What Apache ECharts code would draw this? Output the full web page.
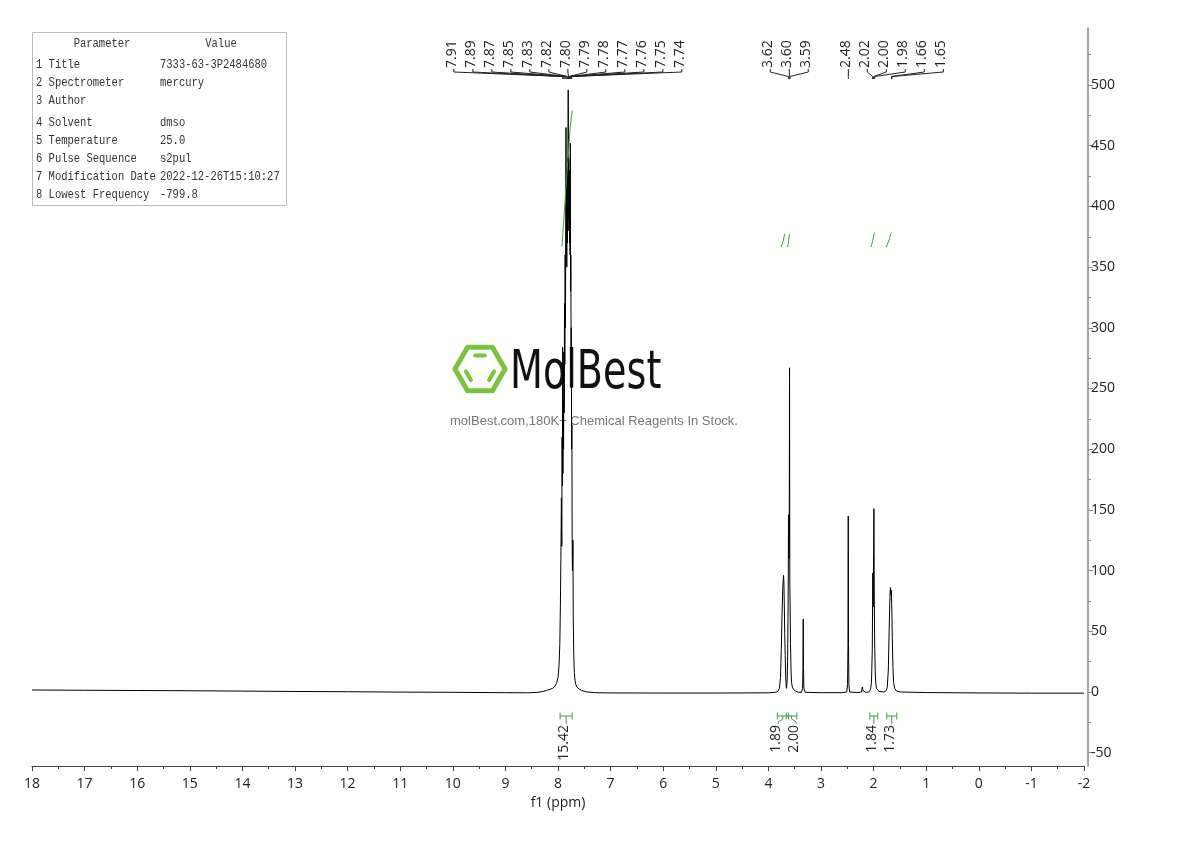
<!DOCTYPE html>
<html>
<head>
<meta charset="utf-8">
<title>1H NMR</title>
<script src="https://cdn.jsdelivr.net/npm/echarts@6/dist/echarts.min.js"></script>
<style>
html,body{margin:0;padding:0;background:#fff;}
#nmrChart{width:1190px;height:841px;}
</style>
</head>
<body>
<div id="nmrChart"></div>
<script>
// spectrum trace, [ppm, intensity] (ppm descending)
var spectrum = [
    [18, 1.6], [17, 1.4], [16, 1.2], [15, 1.0], [14, 0.7], [13, 0.4], [12, 0.2], [11, -0.1],
    [10, -0.3], [9, -0.6], [8.6, -0.7], [8.4, -0.4], [8.3, 0.3], [8.22, 1.2], [8.15, 2.2],
    [8.1, 3], [8.06, 4.5], [8.03, 7], [8.0, 12], [7.98, 22], [7.965, 40], [7.955, 70],
    [7.945, 110], [7.935, 160], [7.928, 120], [7.922, 210], [7.916, 170], [7.912, 284],
    [7.906, 180], [7.9, 240], [7.894, 200], [7.888, 280], [7.882, 230], [7.876, 320],
    [7.87, 270], [7.864, 360], [7.858, 300], [7.852, 400], [7.848, 465], [7.843, 360],
    [7.838, 420], [7.833, 350], [7.828, 430], [7.823, 370], [7.818, 440], [7.813, 380],
    [7.806, 496], [7.8, 390], [7.795, 440], [7.79, 380], [7.785, 430], [7.78, 370],
    [7.775, 420], [7.77, 360], [7.766, 452], [7.761, 330], [7.756, 360], [7.751, 280],
    [7.746, 300], [7.741, 200], [7.736, 220], [7.731, 130], [7.726, 100], [7.72, 110],
    [7.716, 125], [7.71, 60], [7.7, 30], [7.69, 16], [7.675, 9], [7.66, 6], [7.64, 4],
    [7.6, 2.5], [7.55, 1.2], [7.45, 0], [7.3, -0.6], [7, -0.8], [6, -0.9], [5, -0.9],
    [4.5, -0.8], [4.0, -0.7], [3.86, -0.3], [3.82, 0.5], [3.79, 3], [3.77, 12], [3.755, 35],
    [3.74, 65], [3.725, 88], [3.712, 96], [3.705, 90], [3.697, 70], [3.69, 48], [3.68, 30],
    [3.672, 14], [3.663, 5], [3.655, 3], [3.645, 8], [3.635, 25], [3.625, 70], [3.617, 146],
    [3.61, 110], [3.604, 123], [3.598, 267], [3.593, 90], [3.587, 74], [3.58, 40],
    [3.57, 18], [3.56, 8], [3.545, 4], [3.52, 2], [3.48, 0.5], [3.42, -0.3], [3.37, -0.3],
    [3.35, 3], [3.343, 20], [3.338, 60], [3.333, 20], [3.325, 3], [3.3, -0.3], [3.0, -0.6],
    [2.6, -0.6], [2.51, 0], [2.495, 6], [2.487, 40], [2.482, 145], [2.477, 40], [2.47, 6],
    [2.455, 0], [2.3, -0.5], [2.23, 0], [2.215, 4], [2.208, 5], [2.2, 1], [2.15, -0.3],
    [2.09, 0], [2.06, 2], [2.04, 8], [2.025, 35], [2.015, 98], [2.008, 70], [2.0, 113],
    [1.994, 151], [1.989, 100], [1.984, 60], [1.978, 36], [1.97, 18], [1.96, 8],
    [1.945, 3], [1.9, 0.5], [1.8, 0], [1.76, 1], [1.74, 4], [1.72, 18], [1.705, 50],
    [1.69, 78], [1.68, 86], [1.672, 80], [1.664, 84], [1.655, 72], [1.645, 45],
    [1.632, 20], [1.62, 8], [1.6, 3], [1.57, 1], [1.5, 0], [1.0, -0.5], [0, -0.8],
    [-1, -1], [-2, -1]
];

// picked peaks (labels on top)
var peakShifts = [7.91, 7.89, 7.87, 7.85, 7.83, 7.82, 7.80, 7.79, 7.78, 7.77, 7.76, 7.75, 7.74,
    3.62, 3.60, 3.59, 2.48, 2.02, 2.00, 1.98, 1.66, 1.65];

// integration regions [from, to] and their values
var integralRanges = [[7.96, 7.73], [3.83, 3.62], [3.66, 3.46], [2.07, 1.92], [1.75, 1.56]];
var integralValues = [15.42, 1.89, 2.00, 1.84, 1.73];

// integral curves (green), [ppm, intensity]
var integralCurves = [
    [[7.924, 367], [7.88, 395], [7.837, 424], [7.80, 445], [7.772, 463], [7.745, 474], [7.728, 479]],
    [[3.76, 366.5], [3.74, 367.5], [3.72, 371], [3.70, 375.5], [3.684, 377.5]],
    [[3.64, 366.5], [3.625, 369], [3.61, 374], [3.60, 377.5]],
    [[2.05, 366.5], [2.035, 367.5], [2.015, 372], [1.995, 377], [1.975, 378.5]],
    [[1.76, 366.5], [1.73, 368], [1.70, 373], [1.675, 377.5], [1.65, 378.5]]
];

var yMajorTicks = [-50, 0, 50, 100, 150, 200, 250, 300, 350, 400, 450, 500];
var yMinorTicks = [-25, 25, 75, 125, 175, 225, 275, 325, 375, 425, 475, 525];

var paramNames = ['1 Title', '2 Spectrometer', '3 Author', '4 Solvent', '5 Temperature',
    '6 Pulse Sequence', '7 Modification Date', '8 Lowest Frequency'];
var paramValues = ['7333-63-3P2484680', 'mercury', '', 'dmso', '25.0', 's2pul',
    '2022-12-26T15:10:27', '-799.8'];

var GREEN = '#3f9f3f';
var TXT = '#222';
var FONT = 'Open Sans';

// spread labels that would overlap: centre each cluster on its mean, push right if needed
function spreadLabels(centers, gap) {
    var out = [], groups = [], cur = [0];
    for (var i = 1; i < centers.length; i++) {
        if (Math.abs(centers[i] - centers[i - 1]) < gap) cur.push(i);
        else { groups.push(cur); cur = [i]; }
    }
    groups.push(cur);
    var lastX = -Infinity;
    groups.forEach(function (g) {
        var mean = g.reduce(function (s, k) { return s + centers[k]; }, 0) / g.length;
        var start = mean - (g.length - 1) / 2 * gap;
        if (start < lastX + gap) start = lastX + gap;
        g.forEach(function (k, j) { out[k] = start + j * gap; });
        lastX = start + (g.length - 1) * gap;
    });
    return out;
}

function vText(str, x, y, align) {
    return {
        type: 'text', x: x, y: y, rotation: Math.PI / 2,
        style: {
            text: str, fill: TXT, fontSize: 14, fontFamily: FONT,
            align: align, textAlign: align, verticalAlign: 'middle', textVerticalAlign: 'middle'
        }
    };
}

var chart = echarts.init(document.getElementById('nmrChart'));

// table + watermark
var graphics = [];
graphics.push({
    type: 'rect', shape: { x: 32.5, y: 32.5, width: 254, height: 173 },
    style: { fill: '#fff', stroke: '#bbb', lineWidth: 1 }, z: 1
});
function cellText(str, x, y, align) {
    return {
        type: 'text', x: x, y: y, z: 2, scaleX: 0.875,
        style: {
            text: str, fill: '#333', fontSize: 12, fontFamily: 'Liberation Mono',
            align: align, textAlign: align, verticalAlign: 'middle', textVerticalAlign: 'middle'
        }
    };
}
graphics.push(cellText('Parameter', 102, 44, 'center'));
graphics.push(cellText('Value', 221, 44, 'center'));
paramNames.forEach(function (n, i) {
    var y = 65 + i * 18 + (i >= 3 ? 4 : 0);
    graphics.push(cellText(n, 36, y, 'left'));
    graphics.push(cellText(paramValues[i], 160, y, 'left'));
});

var hx = 480, hy = 369, hr = 25;
var hexPts = [];
for (var k = 0; k < 6; k++) {
    var a = Math.PI / 3 * k;
    hexPts.push([hx + hr * Math.cos(a), hy + hr * Math.sin(a)]);
}
graphics.push({
    type: 'polygon', shape: { points: hexPts },
    style: { fill: 'none', stroke: '#7cc242', lineWidth: 5, lineJoin: 'round' }, z: 0
});
// inner bonds: top, lower-left, lower-right edges of a smaller hexagon
var ir = hr * 0.62;
[[4, 5], [2, 3], [0, 1]].forEach(function (e) {
    var a1 = Math.PI / 3 * e[0], a2 = Math.PI / 3 * e[1];
    var p1 = [hx + ir * Math.cos(a1), hy + ir * Math.sin(a1)];
    var p2 = [hx + ir * Math.cos(a2), hy + ir * Math.sin(a2)];
    var s = 0.18;
    graphics.push({
        type: 'line',
        shape: {
            x1: p1[0] + (p2[0] - p1[0]) * s, y1: p1[1] + (p2[1] - p1[1]) * s,
            x2: p2[0] - (p2[0] - p1[0]) * s, y2: p2[1] - (p2[1] - p1[1]) * s
        },
        style: { stroke: '#7cc242', lineWidth: 4, lineCap: 'round' }, z: 0
    });
});
graphics.push({
    type: 'text', x: 510, y: 374, scaleX: 0.72, z: 0,
    style: {
        text: 'MolBest', fill: '#111', fontSize: 53, fontFamily: 'DejaVu Sans',
        align: 'left', textAlign: 'left', verticalAlign: 'middle', textVerticalAlign: 'middle'
    }
});
graphics.push({
    type: 'text', x: 594, y: 421, z: 0,
    style: {
        text: 'molBest.com,180K+ Chemical Reagents In Stock.', fill: '#777', fontSize: 13,
        fontFamily: 'Liberation Sans', align: 'center', textAlign: 'center',
        verticalAlign: 'middle', textVerticalAlign: 'middle'
    }
});

var series = [{
    type: 'line',
    data: spectrum,
    showSymbol: false,
    symbol: 'none',
    silent: true,
    z: 3,
    lineStyle: { color: '#000', width: 1 }
}];

integralCurves.forEach(function (c) {
    series.push({
        type: 'line', data: c, showSymbol: false, symbol: 'none', silent: true, z: 4,
        lineStyle: { color: GREEN, width: 1 }
    });
});

// peak labels with leader lines
series.push({
    type: 'custom',
    clip: false,
    silent: true,
    z: 5,
    data: peakShifts.map(function (p) { return [p, 0]; }),
    renderItem: function (params, api) {
        var top = params.coordSys.y;
        var xs = peakShifts.map(function (p) { return api.coord([p, 0])[0]; });
        var lx = spreadLabels(xs, 19);
        var i = params.dataIndex;
        var yText = top + 40;
        return {
            type: 'group',
            children: [
                vText(peakShifts[i].toFixed(2), lx[i] - 2, yText, 'left'),
                {
                    type: 'polyline',
                    shape: { points: [[lx[i], yText + 1], [lx[i], top + 44], [xs[i], top + 48.5], [xs[i], top + 51]] },
                    style: { stroke: TXT, lineWidth: 1, fill: null }
                }
            ]
        };
    }
});

// integral brackets and values
series.push({
    type: 'custom',
    clip: false,
    silent: true,
    z: 5,
    data: integralRanges.map(function (r) { return [(r[0] + r[1]) / 2, 0]; }),
    renderItem: function (params, api) {
        var i = params.dataIndex;
        var y0 = api.coord([0, 0])[1];
        var centers = integralRanges.map(function (r) { return api.coord([(r[0] + r[1]) / 2, 0])[0]; });
        var lx = spreadLabels(centers, 18);
        var x1 = api.coord([integralRanges[i][0], 0])[0];
        var x2 = api.coord([integralRanges[i][1], 0])[0];
        var yb = y0 + 24;
        var st = { stroke: GREEN, lineWidth: 1, fill: null };
        return {
            type: 'group',
            children: [
                { type: 'line', shape: { x1: x1, y1: yb, x2: x2, y2: yb }, style: st },
                { type: 'line', shape: { x1: x1, y1: yb - 3.5, x2: x1, y2: yb + 3.5 }, style: st },
                { type: 'line', shape: { x1: x2, y1: yb - 3.5, x2: x2, y2: yb + 3.5 }, style: st },
                {
                    type: 'polyline',
                    shape: { points: [[centers[i], yb], [centers[i], yb + 3], [lx[i], yb + 6], [lx[i], yb + 8]] },
                    style: st
                },
                vText(integralValues[i].toFixed(2), lx[i] - 2, yb + 9, 'right')
            ]
        };
    }
});

var option = {
    animation: false,
    backgroundColor: '#fff',
    grid: { left: 32, right: 106, top: 28, bottom: 75, outerBoundsMode: 'none' },
    xAxis: {
        type: 'value',
        inverse: true,
        min: -2,
        max: 18,
        interval: 1,
        name: 'f1 (ppm)',
        nameLocation: 'middle',
        nameGap: 27,
        nameTextStyle: { fontSize: 14, color: TXT, fontFamily: FONT },
        axisLine: { onZero: false, lineStyle: { color: '#444', width: 1 } },
        axisTick: { length: 5, lineStyle: { color: '#444' } },
        minorTick: { show: true, splitNumber: 2, length: 3, lineStyle: { color: '#444' } },
        axisLabel: { fontSize: 14, color: TXT, fontFamily: FONT, margin: 11 },
        splitLine: { show: false }
    },
    yAxis: [{
        type: 'value',
        position: 'right',
        offset: 4,
        min: -61,
        max: 547,
        axisLine: { show: true, onZero: false, lineStyle: { color: '#888', width: 1.5 } },
        axisTick: { show: true, length: 5, customValues: yMajorTicks, lineStyle: { color: '#888' } },
        axisLabel: { customValues: yMajorTicks, fontSize: 14, color: TXT, fontFamily: FONT, margin: 3 },
        splitLine: { show: false }
    }, {
        type: 'value',
        position: 'right',
        offset: 4,
        min: -61,
        max: 547,
        axisLine: { show: false, onZero: false },
        axisTick: { show: true, length: 3, customValues: yMinorTicks, lineStyle: { color: '#888' } },
        axisLabel: { show: false },
        splitLine: { show: false }
    }],
    graphic: graphics,
    series: series
};

chart.setOption(option);
</script>
</body>
</html>
